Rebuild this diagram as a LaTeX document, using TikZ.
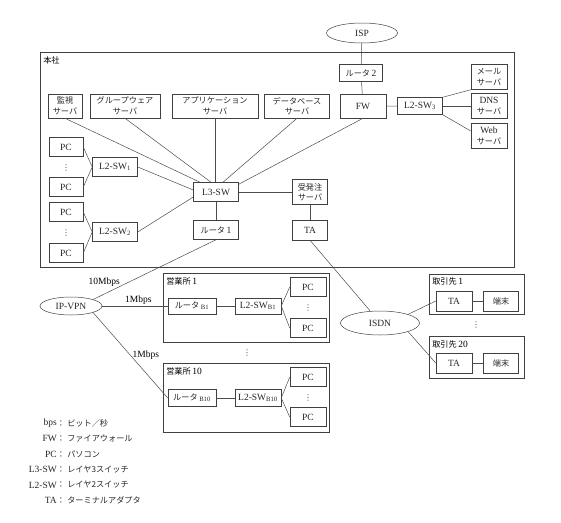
\documentclass[tikz,border=0pt]{standalone}
\usepackage{fontspec}
\setmainfont{Liberation Serif}
\newfontfamily\jpfont[Scale=0.86]{Noto Sans CJK JP}
\newfontfamily\symfont{DejaVu Sans}
\newcommand{\J}[1]{{\jpfont #1}}
\usetikzlibrary{shapes.geometric}

\begin{document}
\begin{tikzpicture}[x=1pt,y=-1pt,line width=0.5pt,
    font=\fontsize{9.5}{10.5}\selectfont,
    box/.style={draw=black!75, inner sep=1pt, align=center, text=black!85},
    cloud/.style={ellipse, draw=black!75, inner sep=0pt, text=black!85},
    area/.style={draw=black!75},
    lnk/.style={draw=black!70},
    vdots/.style={inner sep=0pt, text=black!75, font=\symfont\fontsize{8}{8}\selectfont}]
  \useasboundingbox (0,0) rectangle (561,522);
  % head office
  \draw[area] (40,52) rectangle (514,267);
  \node[anchor=north west, inner sep=0pt] (honsha) at (43,56) {\J{本社}};
  \node[cloud, minimum width=71, minimum height=20] (isp) at (362,33) {ISP};
  \node[box, minimum width=43, minimum height=17] (r2) at (361,73) {\J{ルータ}\,2};
  \node[box, minimum width=46, minimum height=24] (fw) at (363,106) {FW};
  \node[box, minimum width=45, minimum height=17] (l2sw3) at (420,106) {L2-SW\textsubscript{3}};
  \node[box, minimum width=36, minimum height=25] (mail) at (489,77) {\J{メール}\\\J{サーバ}};
  \node[box, minimum width=36, minimum height=25] (dns) at (489,106) {DNS\\\J{サーバ}};
  \node[box, minimum width=36, minimum height=25] (web) at (489,136) {Web\\\J{サーバ}};
  \node[box, minimum width=34, minimum height=24] (kanshi) at (65,106) {\J{監視}\\\J{サーバ}};
  \node[box, minimum width=70, minimum height=24] (group) at (125,106) {\J{グループウェア}\\\J{サーバ}};
  \node[box, minimum width=86, minimum height=24] (app) at (215,106) {\J{アプリケーション}\\\J{サーバ}};
  \node[box, minimum width=65, minimum height=24] (db) at (297,106) {\J{データベース}\\\J{サーバ}};
  \node[box, minimum width=34, minimum height=19] (pca) at (66,147) {PC};
  \node[vdots] (dota) at (66,168) {⋮};
  \node[box, minimum width=34, minimum height=19] (pcb) at (66,187) {PC};
  \node[box, minimum width=34, minimum height=19] (pcc) at (66,212) {PC};
  \node[vdots] (dotb) at (66,233) {⋮};
  \node[box, minimum width=34, minimum height=19] (pcd) at (66,253) {PC};
  \node[box, minimum width=45, minimum height=19] (l2sw1) at (115,167) {L2-SW\textsubscript{1}};
  \node[box, minimum width=45, minimum height=19] (l2sw2) at (115,232) {L2-SW\textsubscript{2}};
  \node[box, minimum width=45, minimum height=19] (l3sw) at (216,192) {L3-SW};
  \node[box, minimum width=45, minimum height=19] (r1) at (216,230) {\J{ルータ}\,1};
  \node[box, minimum width=35, minimum height=25] (juhatchu) at (310,192) {\J{受発注}\\\J{サーバ}};
  \node[box, minimum width=35, minimum height=20] (ta) at (310,230) {TA};
  % branches
  \node[cloud, minimum width=62, minimum height=18] (ipvpn) at (71,306) {IP-VPN};
  \draw[area] (163,273) rectangle (329,342);
  \node[anchor=north west, inner sep=0pt] (eigyo1) at (166,277) {\J{営業所}\,1};
  \node[box, minimum width=48, minimum height=16] (rb1) at (192,306) {\J{ルータ}\,\textsubscript{B1}};
  \node[box, minimum width=46, minimum height=16] (l2b1) at (258,306) {L2-SW\textsubscript{B1}};
  \node[box, minimum width=36, minimum height=19] (pce) at (308,287) {PC};
  \node[vdots] (dotc) at (308,308) {⋮};
  \node[box, minimum width=36, minimum height=19] (pcf) at (308,328) {PC};
  \node[vdots] (dotd) at (247,353) {⋮};
  \draw[area] (163,363) rectangle (329,432);
  \node[anchor=north west, inner sep=0pt] (eigyo10) at (166,367) {\J{営業所}\,10};
  \node[box, minimum width=48, minimum height=17] (rb10) at (192,398) {\J{ルータ}\,\textsubscript{B10}};
  \node[box, minimum width=46, minimum height=17] (l2b10) at (258,398) {L2-SW\textsubscript{B10}};
  \node[box, minimum width=36, minimum height=19] (pcg) at (308,377) {PC};
  \node[vdots] (dote) at (308,398) {⋮};
  \node[box, minimum width=36, minimum height=19] (pch) at (308,417) {PC};
  % business partners
  \node[cloud, minimum width=79, minimum height=24] (isdn) at (380,323) {ISDN};
  \draw[area] (429,274) rectangle (524,314);
  \node[anchor=north west, inner sep=0pt] (tori1) at (432,277) {\J{取引先}\,1};
  \node[box, minimum width=36, minimum height=20] (ta1) at (454,301) {TA};
  \node[box, minimum width=35, minimum height=20] (tan1) at (501,301) {\J{端末}};
  \node[vdots] (dotf) at (476,325) {⋮};
  \draw[area] (429,336) rectangle (524,378);
  \node[anchor=north west, inner sep=0pt] (tori20) at (432,340) {\J{取引先}\,20};
  \node[box, minimum width=36, minimum height=20] (ta20) at (454,363) {TA};
  \node[box, minimum width=35, minimum height=20] (tan20) at (501,363) {\J{端末}};
  % links
  \draw[lnk] (isp) -- (r2) -- (fw) -- (l2sw3);
  \draw[lnk] (l2sw3.north east) -- (mail.south west);
  \draw[lnk] (l2sw3.east) -- (dns.west);
  \draw[lnk] (l2sw3.south east) -- ([yshift=5pt]web.west);
  \draw[lnk] (kanshi.south) -- ([xshift=-16pt]l3sw.north);
  \draw[lnk] (group.south) -- ([xshift=-5pt]l3sw.north);
  \draw[lnk] (app.south) -- (l3sw.north -| app.south);
  \draw[lnk] (db.south) -- ([xshift=7pt]l3sw.north);
  \draw[lnk] (fw.south) -- ([yshift=-2pt]l3sw.north east);
  \draw[lnk] (pca.east) -- (l2sw1.west) -- (pcb.east);
  \draw[lnk] (pcc.east) -- (l2sw2.west) -- (pcd.east);
  \draw[lnk] (l2sw1.east) -- ([yshift=2pt]l3sw.west);
  \draw[lnk] (l2sw2.east) -- ([yshift=-5pt]l3sw.west);
  \draw[lnk] (l3sw) -- (juhatchu) -- (ta);
  \draw[lnk] (l3sw) -- (r1);
  \draw[lnk] (r1.south) -- node[pos=0.78, above left=-1pt, inner sep=1pt] (bw10) {10Mbps} (ipvpn.north east);
  \draw[lnk] (ipvpn.east) -- node[pos=0.55, above, inner sep=1pt] (bw1a) {1Mbps} (rb1.west);
  \draw[lnk] (ipvpn.south east) -- node[pos=0.5, right, inner sep=2pt] (bw1b) {1Mbps} (rb10.west);
  \draw[lnk] (rb1) -- (l2b1);
  \draw[lnk] (pce.west) -- (l2b1.east) -- (pcf.west);
  \draw[lnk] (rb10) -- (l2b10);
  \draw[lnk] (pcg.west) -- (l2b10.east) -- (pch.west);
  \draw[lnk] (ta.south) -- ([xshift=-10pt]isdn.north);
  \draw[lnk] (isdn.north east) -- (ta1.west);
  \draw[lnk] (isdn.south east) -- (ta20.west);
  \draw[lnk] (ta1) -- (tan1);
  \draw[lnk] (ta20) -- (tan20);
  % legend
  \foreach \k/\t [count=\i] in {bps/ビット／秒, FW/ファイアウォール, PC/パソコン,
      L3-SW/レイヤ3スイッチ, L2-SW/レイヤ2スイッチ, TA/ターミナルアダプタ} {
    \node[anchor=east, inner sep=0pt, text=black!85] (key\i) at (57,408+15.4*\i) {\k};
    \node[inner sep=0pt, text=black!85] (col\i) at (61,408+15.4*\i) {\J{：}};
    \node[anchor=west, inner sep=0pt, text=black!85] (txt\i) at (67,408+15.4*\i) {\J{\t}};
  }
\end{tikzpicture}
\end{document}
